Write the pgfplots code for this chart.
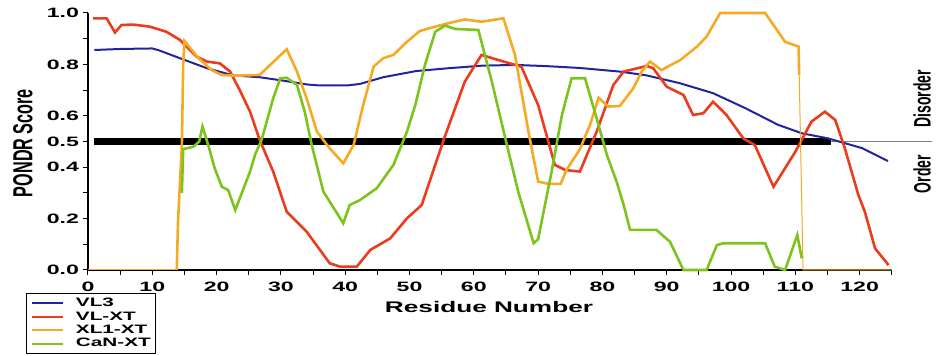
\documentclass[border=0pt]{standalone}
\usepackage{fontspec}
\setmainfont{Liberation Sans}[FakeStretch=1.7]
\newfontfamily\rotfont{Liberation Sans}
\usepackage{graphicx}
\usepackage{pgfplots}
\pgfplotsset{compat=1.18}
\definecolor{cblue}{RGB}{35,35,155}
\definecolor{cred}{RGB}{235,60,30}
\definecolor{corange}{RGB}{245,170,35}
\definecolor{cgreen}{RGB}{125,195,30}
\begin{document}
\begin{tikzpicture}
\useasboundingbox (-44pt,-43pt) rectangle (426.5pt,135pt);
\begin{axis}[
  at={(0pt,0pt)}, anchor=south west,
  scale only axis, width=401.9pt, height=128.5pt,
  xmin=0, xmax=125, ymin=0, ymax=1,
  axis lines*=left,
  axis line style={line width=0.8pt},
  xtick={0,10,...,120}, minor xtick={5,15,...,125},
  ytick={0,0.2,0.4,0.5,0.6,0.8,1.0}, minor ytick={0.1,0.3,0.7,0.9},
  tick align=outside, major tick length=2.5pt, minor tick length=2.5pt,
  tick style={black, line width=0.5pt},
  /pgf/number format/assume math mode=true,
  ticklabel style={font=\bfseries\fontsize{6.8}{8}\selectfont},
  yticklabel style={/pgf/number format/fixed, /pgf/number format/fixed zerofill, /pgf/number format/precision=1, xshift=1.5pt},
  xticklabel style={/pgf/number format/fixed},
  clip=false,
  legend style={at={(axis description cs:-0.0771,-0.0895)}, anchor=north west,
    font=\bfseries\fontsize{6.1}{6.5}\selectfont, draw=black, line width=0.6pt,
    inner xsep=2pt, inner ysep=1.6pt, row sep=0pt,
    nodes={inner sep=0.5pt, text height=4.5pt, text depth=1.2pt}},
  legend cell align=left,
  legend image code/.code={\draw[#1, line width=1pt] (0pt,0pt) -- (15.5pt,0pt); \path (21pt,0pt);},
]
\addplot[black, line width=3.5pt, forget plot] coordinates {(1,0.5)(115.6,0.5)};
\addplot[gray, line width=0.5pt, forget plot] coordinates {(115.6,0.5)(131.3,0.5)};
% VL3
\addplot[cblue, line width=1pt] coordinates {
(1,0.856)(5,0.86)(10,0.862)(11,0.855)(14.3,0.824)(18.5,0.785)(22.6,0.757)(26.7,0.750)(30.3,0.737)(34,0.722)(36,0.718)(40.3,0.718)(42.3,0.724)(45.9,0.750)(51,0.774)(56,0.785)(61.3,0.795)(66.4,0.798)(71.5,0.793)(76.5,0.786)(82.7,0.772)(86.9,0.757)(92,0.727)(97.2,0.688)(102.2,0.630)(107.3,0.565)(111,0.532)(115.1,0.512)(120.4,0.474)(124.4,0.424)};
\addlegendentry{VL3}
% VL-XT
\addplot[cred, line width=1.3pt] coordinates {
(0.8,0.979)(2.9,0.979)(4.2,0.924)(5.2,0.953)(7,0.955)(9.6,0.947)(12.2,0.927)(14.3,0.895)(16.9,0.830)(18.5,0.811)(20.5,0.804)(22.1,0.772)(23.6,0.700)(25.2,0.616)(26.7,0.506)(28.8,0.383)(30.9,0.227)(34,0.149)(37.6,0.026)(39.2,0.013)(41.8,0.013)(43.9,0.078)(47,0.123)(49.6,0.201)(51.9,0.253)(55.3,0.506)(58.6,0.733)(61.2,0.837)(63.8,0.817)(67.4,0.791)(70,0.642)(72.6,0.409)(74.2,0.389)(76.5,0.383)(79.1,0.538)(81.7,0.720)(83.3,0.772)(86.9,0.794)(87.9,0.785)(90,0.713)(92.6,0.681)(94.1,0.603)(95.7,0.610)(97.2,0.655)(99.3,0.603)(101.9,0.512)(103.7,0.486)(106.6,0.324)(110,0.460)(112.5,0.577)(114.6,0.616)(116.2,0.584)(117.7,0.473)(119.8,0.292)(120.8,0.227)(122.4,0.084)(124.5,0.019)};
\addlegendentry{VL-XT}
% XL1-XT
\addplot[corange, line width=1.3pt] coordinates {
(13.8,0)(14,0.188)(14.6,0.486)(14.8,0.798)(15,0.891)(17.2,0.824)(19.2,0.778)(20.8,0.759)(22.9,0.756)(26.7,0.759)(30.9,0.859)(32.5,0.772)(34,0.668)(35.6,0.538)(37.6,0.473)(39.7,0.415)(41.3,0.486)(42.8,0.642)(44.4,0.791)(45.9,0.824)(47.5,0.837)(49.6,0.888)(51.6,0.930)(54,0.947)(56,0.960)(58.6,0.975)(61.2,0.966)(64.6,0.979)(66.4,0.837)(68.5,0.538)(70,0.344)(71.6,0.335)(73.5,0.335)(74.4,0.389)(76.5,0.470)(78.1,0.567)(79.4,0.670)(80.9,0.636)(82.7,0.638)(84.8,0.707)(86.1,0.772)(87.4,0.811)(89.2,0.778)(92.1,0.817)(94.7,0.869)(96.2,0.908)(98.3,1.0)(105.3,1.0)(108.4,0.888)(110.5,0.869)(110.6,0.759)};
\addlegendentry{XL1-XT}
\addplot[corange, line width=0.5pt, forget plot] coordinates {(0,0)(13.8,0)};
\addplot[corange, line width=0.5pt, forget plot] coordinates {(110.6,0.759)(111.2,0)(125,0)};
% CaN-XT
\addplot[cgreen, line width=1.3pt] coordinates {
(14.6,0.30)(14.8,0.47)(16.4,0.48)(17.3,0.50)(17.8,0.558)(18.7,0.486)(19.7,0.396)(20.8,0.324)(21.8,0.311)(22.9,0.233)(24.4,0.331)(25.2,0.383)(26,0.45)(27,0.506)(28.8,0.668)(29.9,0.746)(30.9,0.748)(32.5,0.720)(33.7,0.616)(34.8,0.486)(36.6,0.305)(39.7,0.182)(40.7,0.253)(42.3,0.272)(44.9,0.318)(47.5,0.409)(49.6,0.538)(50.9,0.642)(52.4,0.798)(54,0.927)(55.5,0.951)(57.1,0.938)(60.7,0.934)(62.8,0.733)(64.9,0.512)(66.9,0.305)(69.3,0.104)(70,0.12)(72.1,0.383)(73.7,0.603)(75.2,0.746)(77.3,0.746)(79.1,0.590)(80.7,0.447)(82.2,0.344)(83.3,0.253)(84.3,0.156)(88.4,0.156)(90.5,0.110)(92.6,0)(96.2,0)(97.8,0.097)(98.8,0.104)(105.3,0.104)(106.8,0.013)(108.4,0)(110.3,0.136)(111,0.045)};
\addlegendentry{CaN-XT}
\end{axis}
\node[rotate=90] at (-32.5pt,63.5pt) {\scalebox{1}[1.7]{\rotfont\bfseries\fontsize{8.1}{9}\selectfont PONDR Score}};
\node at (200.5pt,-18.5pt) {\bfseries\fontsize{7.7}{9}\selectfont Residue Number};
\node[rotate=90] at (417pt,85.5pt) {\scalebox{1}[1.7]{\rotfont\bfseries\fontsize{7}{8}\selectfont Disorder}};
\node[rotate=90] at (417pt,48pt) {\scalebox{1}[1.7]{\rotfont\bfseries\fontsize{7}{8}\selectfont Order}};
\end{tikzpicture}
\end{document}
